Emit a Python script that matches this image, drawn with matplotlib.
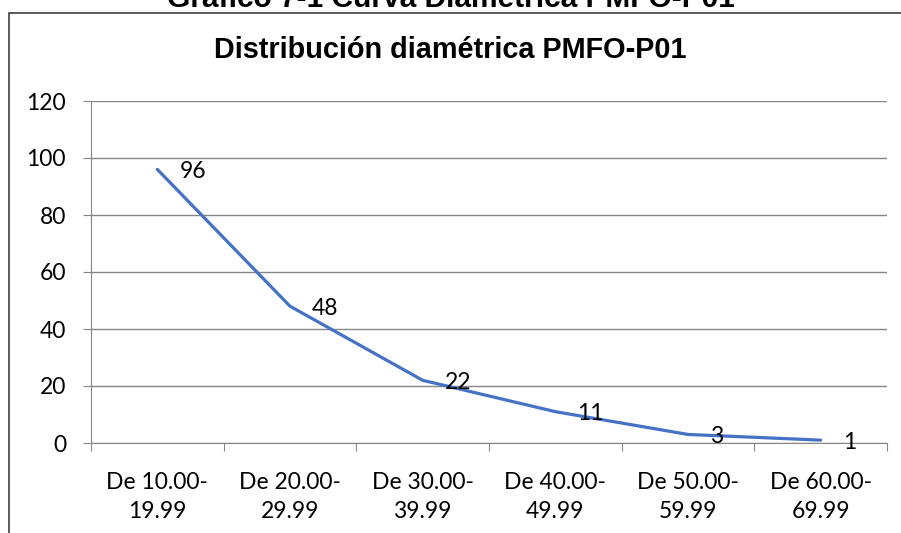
import matplotlib.pyplot as plt
from matplotlib.patches import Rectangle

categorias = ['De 10.00-\n19.99', 'De 20.00-\n29.99', 'De 30.00-\n39.99',
              'De 40.00-\n49.99', 'De 50.00-\n59.99', 'De 60.00-\n69.99']
valores = [96, 48, 22, 11, 3, 1]
y_ticks = [0, 20, 40, 60, 80, 100, 120]

fig = plt.figure(figsize=(9.01, 5.33), dpi=100)
W, H = 901, 533
ax = fig.add_axes([91 / W, 1 - 443 / H, 796 / W, 342 / H])

# marco del grafico
fig.patches.append(Rectangle((9 / W, -0.1), 1.0, 1 - 13 / H + 0.1, transform=fig.transFigure,
                             fill=False, edgecolor='#404040', linewidth=1.2))

fig.text(0.5, 1 - 7 / H, 'Gráfico 7-1 Curva Diamétrica PMFO-P01', ha='center', va='baseline',
         fontsize=21.5, fontweight='bold', family='Liberation Sans')
fig.text(0.5, 1 - 58 / H, 'Distribución diamétrica PMFO-P01', ha='center', va='baseline',
         fontsize=20.8, fontweight='bold', family='Liberation Sans')

x = list(range(len(categorias)))
ax.plot(x, valores, color='#4472C4', linewidth=2.3, solid_capstyle='round')
for xi, v in zip(x, valores):
    ax.annotate(str(v), (xi, v), xytext=(16, -1.5), textcoords='offset points',
                ha='left', va='center', fontsize=16.5, family='Lato')

ax.set_xlim(-0.5, len(categorias) - 0.5)
ax.set_ylim(0, 120)
ax.set_yticks(y_ticks)
ax.set_yticklabels([str(t) for t in y_ticks], fontsize=16.5, family='Lato')
ax.set_xticks([i - 0.5 for i in range(len(categorias) + 1)])
ax.set_xticklabels([])
ax.set_xticks(x, minor=True)
ax.set_xticklabels(categorias, minor=True, fontsize=16.5, family='Lato', linespacing=1.45)
ax.tick_params(axis='x', which='minor', length=0, pad=21)
ax.tick_params(axis='x', which='major', length=6, color='#868686')
ax.tick_params(axis='y', length=6, color='#868686', pad=12)

ax.grid(axis='y', color='#868686', linewidth=1)
ax.set_axisbelow(True)
for s in ['top', 'right']:
    ax.spines[s].set_visible(False)
ax.spines['left'].set_color('#868686')
ax.spines['bottom'].set_color('#868686')

fig.savefig('out.png', dpi=100)
